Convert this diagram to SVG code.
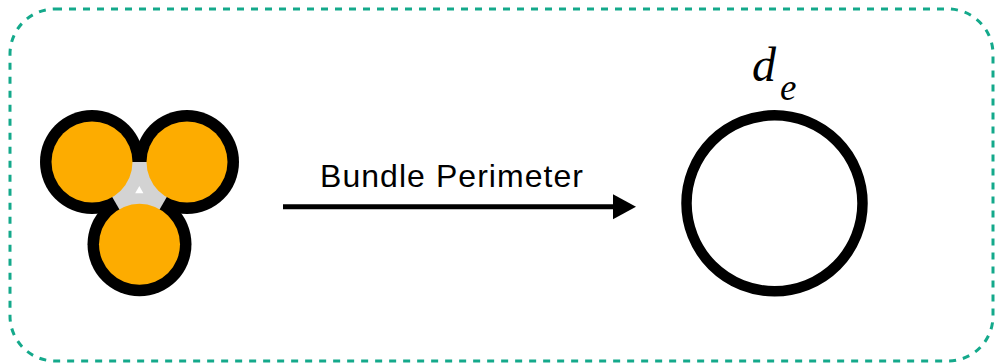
<svg xmlns="http://www.w3.org/2000/svg" width="995" height="363" viewBox="0 0 995 363">
  <defs>
    <style>
      .frame { fill: none; stroke: #14A98B; stroke-width: 3; stroke-dasharray: 7 7; }
      .ring { fill: #000000; }
      .core { fill: #FDAC00; }
      .gap { fill: #D3D3D3; }
      .label { font-family: "Liberation Sans", Arial, Helvetica, sans-serif; font-size: 32px; fill: #000000; }
      .math { font-family: "Liberation Serif", "Times New Roman", serif; font-style: italic; fill: #000000; }
      .edge { stroke: #000000; stroke-width: 5; fill: none; }
    </style>
    <marker id="arrowhead" markerUnits="userSpaceOnUse" markerWidth="24" markerHeight="25" refX="0" refY="12.5" orient="auto" overflow="visible">
      <path d="M0,0 L23,12.5 L0,25 Z" fill="#000000"/>
    </marker>
  </defs>

  <rect width="995" height="363" fill="#FFFFFF"/>

  <!-- dashed enclosure -->
  <rect class="frame" x="10" y="9" width="983" height="352" rx="45" ry="45"/>

  <!-- three-wire bundle -->
  <g id="bundle">
    <circle class="ring" cx="92" cy="162" r="52"/>
    <circle class="ring" cx="187" cy="162" r="52"/>
    <circle class="ring" cx="139.5" cy="244.3" r="52"/>
    <polygon class="gap" points="92,162 187,162 139.5,244.3"/>
    <circle class="core" cx="92" cy="162" r="40.5"/>
    <circle class="core" cx="187" cy="162" r="40.5"/>
    <circle class="core" cx="139.5" cy="244.3" r="40.5"/>
    <polygon fill="#FFFFFF" points="139.3,186 135.2,193.3 143.4,193.3"/>
  </g>

  <!-- equivalent circle -->
  <g id="equivalent">
    <circle cx="774.5" cy="203.3" r="88" fill="none" stroke="#000000" stroke-width="10.5"/>
    <text class="math" x="752" y="81" font-size="48">d<tspan font-size="37" x="780" y="99.5">e</tspan></text>
  </g>

  <!-- connector -->
  <g id="connectors">
    <line class="edge" x1="283" y1="206.7" x2="613" y2="206.7" marker-end="url(#arrowhead)"/>
    <text class="label" x="320" y="186.7" textLength="263" lengthAdjust="spacing">Bundle Perimeter</text>
  </g>
</svg>
